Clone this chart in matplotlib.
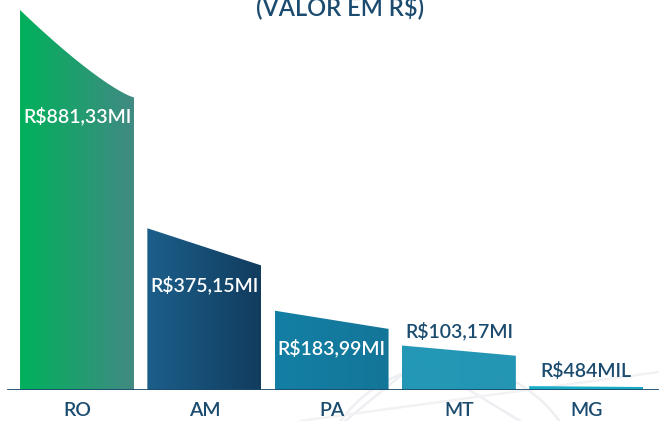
import numpy as np
import matplotlib.pyplot as plt
from matplotlib.patches import Polygon, Circle
from matplotlib.colors import LinearSegmentedColormap

estados = ["RO", "AM", "PA", "MT", "MG"]
valores = [881.33, 375.15, 183.99, 103.17, 0.484]  # em milhoes de R$
rotulos = ["R$881,33MI", "R$375,15MI", "R$183,99MI", "R$103,17MI", "R$484MIL"]

cores = [("#00b15b", "#418a83"),
         ("#1c5f8b", "#113c5e"),
         ("#137fa4", "#147699"),
         ("#2498b7", "#2496b4"),
         ("#19afc8", "#1aabc4")]

azul = "#1b4b6e"
taper = 0.77
min_h = 9
largura = 0.895
plt.rcParams["font.family"] = ["Lato", "DejaVu Sans"]

fig = plt.figure(figsize=(6.59, 4.21), dpi=100)

# marca d'agua de fundo
bg = fig.add_axes([0, 0, 1, 1])
bg.set_xlim(0, 659)
bg.set_ylim(421, 0)
bg.axis("off")
bg.add_patch(Circle((450, 500), 135, fill=False, ec="#eeeff3", lw=1.8))
bg.plot([420, 345], [360, 421], color="#eeeff3", lw=1.8)
bg.plot([420, 520], [360, 421], color="#eeeff3", lw=1.8)
bg.plot([300, 659], [421, 372], color="#f2f2f5", lw=1.8)

ax = fig.add_axes([0, 31 / 421, 1, 390 / 421])
ax.set_xlim(-0.605, 4.572)
ax.set_ylim(0, valores[0] * 390 / 380)
ax.axis("off")

for i, (v, (c1, c2)) in enumerate(zip(valores, cores)):
    h = max(v, min_h)
    x0, x1 = i - largura / 2, i + largura / 2
    if i == 0:
        t = np.linspace(0, 1, 40)
        topo = h * taper + h * (1 - taper) * (1 - t) ** 1.25
        xs = x0 + t * (x1 - x0)
        verts = [(x0, 0)] + list(zip(xs, topo)) + [(x1, 0)]
    else:
        verts = [(x0, 0), (x0, h), (x1, h * taper), (x1, 0)]
    poly = Polygon(verts, closed=True, fc="none", ec="none")
    ax.add_patch(poly)
    cmap = LinearSegmentedColormap.from_list("g%d" % i, [c1, c2])
    grad = np.linspace(0, 1, 256).reshape(1, -1)
    im = ax.imshow(grad, cmap=cmap, aspect="auto", extent=[x0, x1, 0, h],
                   origin="lower", zorder=2)
    im.set_clip_path(poly)

    if v > 150:
        ax.annotate(rotulos[i], (i, h * taper), xytext=(0, -19),
                    textcoords="offset pixels", ha="center", va="center",
                    color="white", fontsize=14, fontweight="semibold", zorder=3)
    else:
        ax.annotate(rotulos[i], (i, h), xytext=(0, 15),
                    textcoords="offset pixels", ha="center", va="center",
                    color=azul, fontsize=14, fontweight="semibold", zorder=3)

    ax.annotate(estados[i], (i, 0), xytext=(0, -21), textcoords="offset pixels",
                ha="center", va="center", color=azul, fontsize=14,
                fontweight="semibold", annotation_clip=False)

ax.axhline(0, xmin=8 / 659, xmax=1, color=azul, lw=2, zorder=4)

fig.text(340 / 659, 1 - 15 / 421, "(VALOR EM R$)", ha="center", va="baseline",
         color=azul, fontsize=17, fontweight="semibold")

fig.savefig("out.png", dpi=100)
